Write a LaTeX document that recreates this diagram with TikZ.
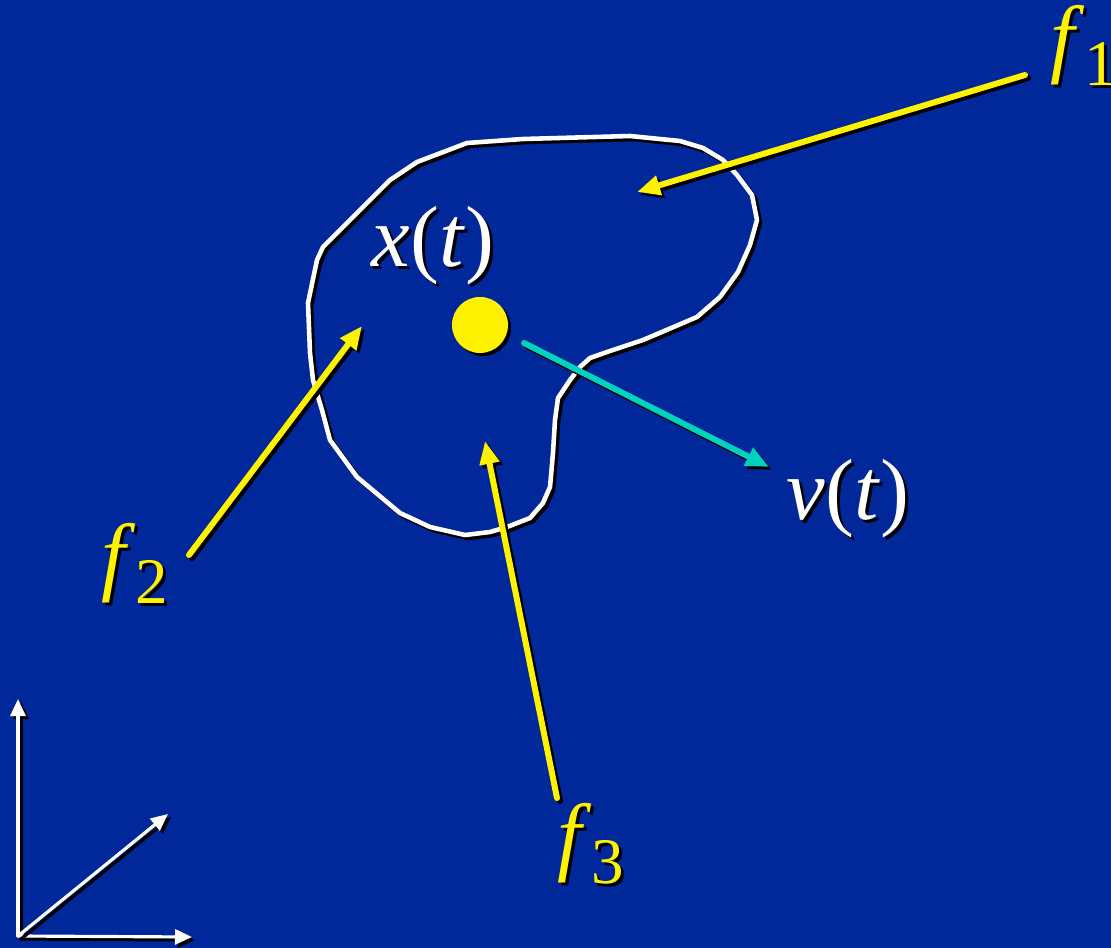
\documentclass[tikz,border=0pt]{standalone}
\usepackage{fontspec}
\setmainfont{Liberation Serif}
\usepackage{tikz}
\usetikzlibrary{arrows.meta,shadows}
\usepackage{xcolor}

\definecolor{slidebg}{RGB}{0,40,155}
\definecolor{velcol}{RGB}{0,210,190}

% text with a black drop shadow
\newcommand{\shd}[1]{\makebox[0pt][l]{\hspace{0.03cm}\raisebox{-0.03cm}{\color{black}#1}}#1}
\newcommand{\sub}[1]{\raisebox{-0.22em}{\fontsize{18.5}{20}\selectfont\upshape #1}}
\newcommand{\blobpath}{(467,143) -- (523,139) -- (630,136) -- (680,141)
  -- (703,148) -- (723,160) -- (737,175) -- (752,195) -- (757,220) -- (750,245)
  -- (738,272) -- (720,297) -- (697,317) -- (683,323) -- (643,340) -- (607,352)
  -- (590,358) -- (580,367) -- (570,380) -- (558,398) -- (555,420) -- (553,453)
  -- (550,487) -- (543,503) -- (530,518) -- (507,527) -- (490,532) -- (465,535)
  -- (430,527) -- (400,513) -- (357,477) -- (330,440) -- (322,410) -- (313,380)
  -- (310,353) -- (308,303) -- (317,260) -- (323,247) -- (343,227) -- (390,180)
  -- (417,162) -- cycle}

\tikzset{
  force/.style={line width=1.7pt,-{Triangle[length=2.3mm,width=1.9mm]}},
  axis/.style={line width=0.9pt,-{Triangle[length=1.7mm,width=1.5mm]}},
  lbl/.style={inner sep=0pt,anchor=base west,font=\fontsize{24.7}{30}\selectfont}
}

\begin{document}
\begin{tikzpicture}[x=0.01cm,y=-0.01cm,line cap=round,line join=round]
\fill[slidebg] (0,0) rectangle (1111,948);
\useasboundingbox (0,0) rectangle (1111,948);
% body outline
\draw[black,line width=1.3pt,xshift=0.03cm,yshift=-0.03cm] \blobpath;
\draw[white,line width=1.3pt] \blobpath;
% centre of mass
\node[circle,fill=yellow,minimum size=0.56cm,inner sep=0pt,
  drop shadow={shadow xshift=0.03cm,shadow yshift=-0.03cm,opacity=1,fill=black}] (mass) at (480,325) {};
% labels
\node[lbl,white] (xlabel) at (371,266) {\shd{\textit{x}(\textit{t})}};
\node[lbl,white] (vlabel) at (786,519) {\shd{\textit{v}(\textit{t})}};
\node[lbl,yellow] (f1label) at (1050,66) {\shd{\textit{f}\sub{1}}};
\node[lbl,yellow] (f2label) at (101,584) {\shd{\textit{f}\sub{2}}};
\node[lbl,yellow] (f3label) at (557,864) {\shd{\textit{f}\sub{3}}};
% arrow ends
\coordinate (f1tail) at (1025,75);
\coordinate (f1tip) at (637,192);
\coordinate (f2tail) at (189,555);
\coordinate (f2tip) at (362,326);
\coordinate (f3tail) at (557,798);
\coordinate (f3tip) at (485,441);
\coordinate (vtail) at (524,343);
\coordinate (vtip) at (769,467);
\coordinate (origin) at (18,936);
\coordinate (yaxis) at (18,699);
\coordinate (xaxis) at (192,937);
\coordinate (zaxis) at (168,814);
% shadow first, then the arrow
\foreach \a/\b/\c/\s in {f1tail/f1tip/yellow/force, f2tail/f2tip/yellow/force,
    f3tail/f3tip/yellow/force, vtail/vtip/velcol/force,
    origin/yaxis/white/axis, origin/xaxis/white/axis, origin/zaxis/white/axis}{
  \draw[\s,black] ([shift={(3,3)}]\a) -- ([shift={(3,3)}]\b);
  \draw[\s,\c] (\a) -- (\b);
}
\end{tikzpicture}
\end{document}
